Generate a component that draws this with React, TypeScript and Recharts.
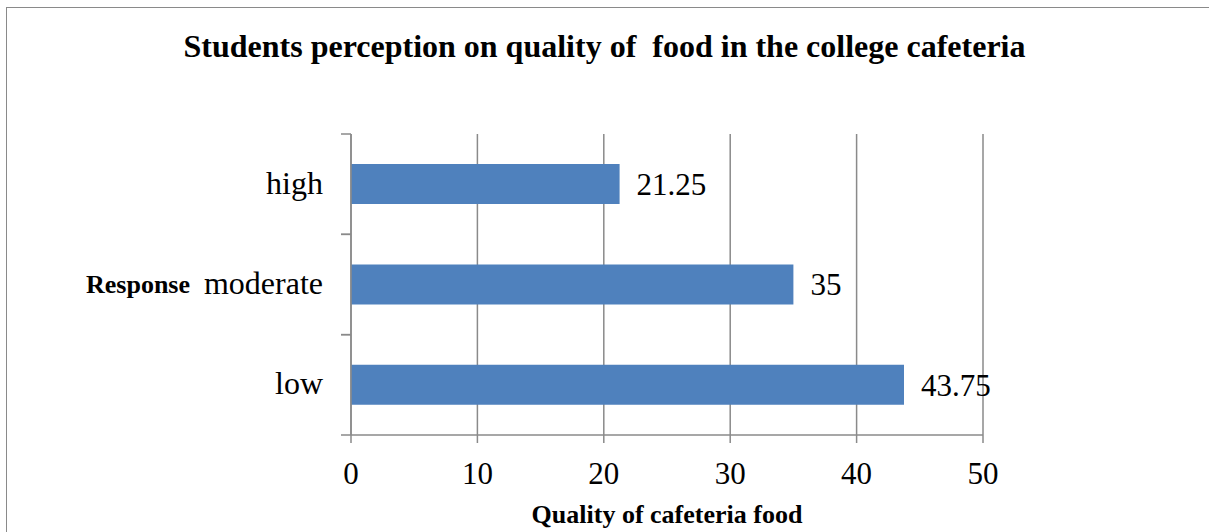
import { Bar, BarChart, CartesianGrid, LabelList, XAxis, YAxis } from "recharts"

const categories = ["high", "moderate", "low"]
const percentages = [21.25, 35, 43.75]
const xTicks = [0, 10, 20, 30, 40, 50]

const data = categories.map((name, i) => ({ name, value: percentages[i] }))

const WIDTH = 1209
const HEIGHT = 532
const Y_AXIS_WIDTH = 351
const X_AXIS_HEIGHT = 97
const MARGIN = { top: 134, right: 226, bottom: 0, left: 0 }
const BAND = (HEIGHT - MARGIN.top - X_AXIS_HEIGHT) / categories.length

const FONT = "'Liberation Serif', 'Times New Roman', serif"
const GRID = "#8a8a8a"

// category label plus Excel-style tick marks at the band edges
function CategoryTick(props: any) {
  const { x, y, payload } = props
  return (
    <g>
      <line x1={x - 10} x2={x} y1={y - BAND / 2} y2={y - BAND / 2} stroke={GRID} strokeWidth={1.5} />
      <line x1={x - 10} x2={x} y1={y + BAND / 2} y2={y + BAND / 2} stroke={GRID} strokeWidth={1.5} />
      <text x={x - 28} y={y} dy="0.3em" textAnchor="end" fontSize={32} fill="#000" fontFamily={FONT}>
        {payload.value}
      </text>
    </g>
  )
}

export default function App() {
  return (
    <div style={{ position: "fixed", left: 0, top: 0, width: WIDTH, height: HEIGHT, overflow: "hidden", background: "#fff" }}>
      <div style={{ position: "absolute", left: 6, top: 7, width: WIDTH, height: HEIGHT, border: `1px solid ${GRID}` }} />
      <div
        style={{
          position: "absolute", left: 0, width: WIDTH, top: 30, textAlign: "center", lineHeight: 1,
          fontFamily: FONT, fontWeight: "bold", fontSize: 32, whiteSpace: "pre",
        }}
      >
        Students perception on quality of  food in the college cafeteria
      </div>
      <div style={{ position: "absolute", left: 86, top: 272, lineHeight: 1, fontFamily: FONT, fontWeight: "bold", fontSize: 26 }}>
        Response
      </div>
      <BarChart width={WIDTH} height={HEIGHT} data={data} layout="vertical" margin={MARGIN} barCategoryGap="30%">
        <CartesianGrid horizontal={false} vertical stroke={GRID} strokeWidth={1.5} />
        <XAxis
          type="number"
          domain={[0, 50]}
          ticks={xTicks}
          interval={0}
          height={X_AXIS_HEIGHT}
          stroke={GRID}
          strokeWidth={1.5}
          tickSize={8}
          tickMargin={19}
          tick={{ fill: "#000", fontSize: 31, fontFamily: FONT }}
          label={{
            value: "Quality of cafeteria food",
            position: "insideBottom",
            offset: 9,
            fill: "#000",
            fontSize: 26,
            fontWeight: "bold",
            fontFamily: FONT,
          }}
        />
        <YAxis
          type="category"
          dataKey="name"
          stroke={GRID}
          strokeWidth={1.5}
          tickLine={false}
          tickSize={0}
          tickMargin={0}
          tick={<CategoryTick />}
          width={Y_AXIS_WIDTH}
        />
        <Bar dataKey="value" fill="#4f81bd" isAnimationActive={false}>
          <LabelList dataKey="value" position="right" offset={17} fill="#000" fontSize={31} fontFamily={FONT} />
        </Bar>
      </BarChart>
    </div>
  )
}
